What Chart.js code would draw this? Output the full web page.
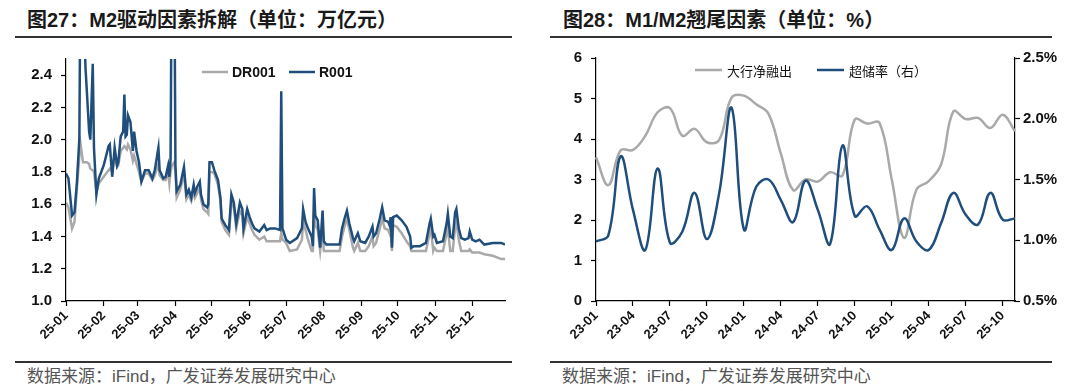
<!DOCTYPE html>
<html>
<head>
<meta charset="utf-8">
<script src="https://cdn.jsdelivr.net/npm/chart.js@4.4.1/dist/chart.umd.min.js"></script>
<style>
  body { margin: 0; background: #fff; width: 1080px; height: 391px; position: relative; overflow: hidden;
         font-family: "Liberation Sans", Arial, "Noto Sans CJK SC", sans-serif; }
  .title { position: absolute; top: 7px; font-size: 20px; font-weight: bold; color: #1a1a1a; white-space: nowrap; line-height: 26px; }
  .rule { position: absolute; height: 2px; background: #333; }
  .src { position: absolute; top: 366px; font-size: 17px; color: #555; white-space: nowrap; line-height: 22px; }
  canvas { position: absolute; top: 40px; }
</style>
</head>
<body>
<div class="title" style="left:27px">图27：M2驱动因素拆解（单位：万亿元）</div>
<div class="rule" style="left:15px; top:36px; width:497px"></div>
<canvas id="leftChart" width="530" height="318" style="left:0"></canvas>
<div class="rule" style="left:15px; top:361px; width:497px"></div>
<div class="src" style="left:27px">数据来源：iFind，广发证券发展研究中心</div>

<div class="title" style="left:563px">图28：M1/M2翘尾因素（单位：%）</div>
<div class="rule" style="left:550px; top:36px; width:502px"></div>
<canvas id="rightChart" width="540" height="318" style="left:540px"></canvas>
<div class="rule" style="left:550px; top:361px; width:502px"></div>
<div class="src" style="left:562px">数据来源：iFind，广发证券发展研究中心</div>

<script>
// ---- left chart: 2025 daily rates (day of year) ----
var tradeDays = [0,2,5,7,9,11,12,14,16,17,19,20,22,23,25,27,31,35,36,38,40,42,43,45,47,48,49,50,51,53,55,56,58,60,62,65,68,71,73,76,77,80,82,84,85,86,87,89,90,91,94,97,99,101,103,105,106,108,110,111,113,116,117,118,120,122,125,127,128,131,134,136,138,140,143,145,146,149,151,153,155,159,163,165,168,172,176,177,178,181,184,190,194,195,197,199,202,203,204,205,207,209,211,212,214,220,225,227,229,231,233,236,237,240,242,246,249,252,253,255,258,260,262,265,266,267,268,269,272,276,280,283,284,286,291,296,299,300,302,303,305,310,313,314,316,318,320,321,323,325,328,331,332,334,337,340,344,351,358,361];
var r001 = [1.79,1.76,1.53,1.55,1.74,2.01,3.20,3.00,2.45,2.32,2.05,2.00,2.47,1.95,1.66,1.76,1.84,1.96,1.97,1.77,1.95,1.84,1.86,2.02,2.05,2.28,2.02,2.03,2.15,2.11,1.93,2.05,1.93,1.86,1.74,1.81,1.81,1.76,1.81,1.95,1.81,1.76,1.77,1.84,1.77,1.88,3.20,3.20,1.84,1.68,1.72,1.83,1.66,1.69,1.64,1.72,1.67,1.71,1.74,1.66,1.60,1.58,1.60,1.86,1.86,1.81,1.75,1.64,1.51,1.47,1.44,1.66,1.61,1.48,1.61,1.57,1.45,1.57,1.52,1.48,1.45,1.43,1.47,1.44,1.45,1.45,1.44,2.30,1.45,1.38,1.36,1.39,1.45,1.57,1.49,1.45,1.40,1.34,1.70,1.53,1.50,1.33,1.56,1.37,1.35,1.35,1.35,1.45,1.51,1.56,1.48,1.39,1.37,1.42,1.37,1.36,1.40,1.46,1.40,1.42,1.51,1.58,1.50,1.49,1.47,1.52,1.33,1.52,1.53,1.50,1.46,1.40,1.33,1.34,1.34,1.36,1.48,1.51,1.40,1.41,1.36,1.37,1.48,1.54,1.40,1.39,1.55,1.57,1.45,1.39,1.38,1.39,1.43,1.38,1.37,1.38,1.35,1.36,1.36,1.35];
var dr001 = [1.61,1.58,1.45,1.49,1.70,1.90,1.97,1.86,1.86,1.86,1.85,1.82,1.81,1.80,1.68,1.73,1.77,1.81,1.82,1.80,1.90,1.83,1.84,1.93,1.95,1.96,1.95,1.94,1.97,1.94,1.87,1.90,1.85,1.80,1.74,1.79,1.79,1.75,1.78,1.85,1.78,1.75,1.75,1.80,1.73,1.80,1.84,1.86,1.80,1.64,1.69,1.79,1.63,1.66,1.62,1.68,1.64,1.67,1.70,1.63,1.57,1.55,1.54,1.80,1.80,1.79,1.72,1.62,1.49,1.44,1.41,1.61,1.58,1.45,1.56,1.53,1.42,1.52,1.48,1.44,1.41,1.38,1.40,1.37,1.37,1.37,1.37,1.42,1.38,1.36,1.31,1.32,1.38,1.49,1.44,1.38,1.31,1.31,1.55,1.47,1.44,1.31,1.45,1.31,1.31,1.31,1.31,1.40,1.46,1.51,1.44,1.33,1.31,1.36,1.31,1.31,1.34,1.40,1.34,1.36,1.45,1.51,1.45,1.44,1.42,1.46,1.31,1.47,1.46,1.42,1.37,1.34,1.31,1.31,1.31,1.31,1.42,1.45,1.31,1.33,1.31,1.31,1.42,1.45,1.31,1.31,1.46,1.49,1.38,1.31,1.31,1.31,1.32,1.30,1.30,1.30,1.29,1.28,1.26,1.26];
var monthStarts = [0,31,59,90,120,151,181,212,243,273,304,334];
var monthLabels = ['25-01','25-02','25-03','25-04','25-05','25-06','25-07','25-08','25-09','25-10','25-11','25-12'];
var leftYTicks = [1.0,1.2,1.4,1.6,1.8,2.0,2.2,2.4];

// ---- right chart: monthly 23-01 .. 25-11 ----
var months = ['23-01','23-02','23-03','23-04','23-05','23-06','23-07','23-08','23-09','23-10','23-11','23-12',
              '24-01','24-02','24-03','24-04','24-05','24-06','24-07','24-08','24-09','24-10','24-11','24-12',
              '25-01','25-02','25-03','25-04','25-05','25-06','25-07','25-08','25-09','25-10','25-11'];
var bigBankNetLend = [3.55,2.86,3.72,3.73,4.08,4.66,4.76,4.08,4.25,3.92,3.98,5.02,5.07,4.86,4.62,3.64,2.74,3.0,2.95,3.18,3.10,4.48,4.38,4.40,3.00,1.56,2.75,2.96,3.37,4.68,4.49,4.52,4.27,4.60,4.19];
var excessReserve = [0.99,1.04,1.69,1.25,0.92,1.59,0.98,1.07,1.39,1.01,1.39,2.09,1.09,1.44,1.50,1.33,1.15,1.49,1.25,0.97,1.78,1.20,1.28,1.09,0.92,1.18,0.99,0.92,1.14,1.39,1.21,1.13,1.39,1.17,1.18];
var rightYTicks = [0,1,2,3,4,5,6];
var rightY2Ticks = [0.5,1.0,1.5,2.0,2.5];

var BLUE = '#1f4e7c';
var GRAY = '#a9a9a9';
var tickFont = { family: '"Liberation Sans", Arial, sans-serif', size: 15, weight: 'bold' };
var xFont = { family: '"Liberation Sans", Arial, sans-serif', size: 13, weight: 'bold' };

// legend drawn inside the plot
const inlineLegend = {
    id: 'inlineLegend',
    afterDraw(chart, args, opts)
    {
        const ctx = chart.ctx;
        ctx.save();
        opts.items.forEach(function(it){
            const ds = chart.data.datasets[it.ds];
            ctx.strokeStyle = ds.borderColor;
            ctx.lineWidth = 2.5;
            ctx.beginPath();
            ctx.moveTo(it.x, opts.y);
            ctx.lineTo(it.x + opts.len, opts.y);
            ctx.stroke();
            ctx.fillStyle = '#111';
            ctx.font = opts.font;
            ctx.textBaseline = 'middle';
            ctx.fillText(ds.label, it.x + opts.len + opts.gap, opts.y + 1);
        });
        ctx.restore();
    }
};

function axisBase()
{
    return {
        border: { display: true, color: '#000', width: 1.2 },
        grid: { display: true, drawOnChartArea: false, drawTicks: true, tickLength: 5, color: '#000', tickWidth: 1.2 }
    };
}

var leftX = axisBase();
leftX.type = 'linear';
leftX.min = 0;
leftX.max = 361;
leftX.afterBuildTicks = function(s){ s.ticks = monthStarts.map(function(v){ return { value: v }; }); };
leftX.afterFit = function(s){ s.height = 57; };
leftX.ticks = { autoSkip: false, maxRotation: 45, minRotation: 45, padding: 2, color: '#111', font: xFont,
                callback: function(v){ return monthLabels[monthStarts.indexOf(v)]; } };

var leftY = axisBase();
leftY.min = 1.0;
leftY.max = 2.5;
leftY.afterBuildTicks = function(s){ s.ticks = leftYTicks.map(function(v){ return { value: v }; }); };
leftY.afterFit = function(s){ s.width = 66; };
leftY.ticks = { padding: 9, color: '#111', font: tickFont, callback: function(v){ return v.toFixed(1); } };

new Chart(document.getElementById('leftChart').getContext('2d'), {
    type: 'line',
    data: {
        datasets: [
            { label: 'DR001', data: dr001.map(function(v, i){ return { x: tradeDays[i], y: v }; }),
              borderColor: GRAY, borderWidth: 2.5, pointRadius: 0, tension: 0, order: 2 },
            { label: 'R001', data: r001.map(function(v, i){ return { x: tradeDays[i], y: v }; }),
              borderColor: BLUE, borderWidth: 2.5, pointRadius: 0, tension: 0, order: 1 }
        ]
    },
    options: {
        responsive: false,
        animation: false,
        devicePixelRatio: 1,
        layout: { padding: { top: 19, right: 25, left: 0, bottom: 0 } },
        scales: { x: leftX, y: leftY },
        plugins: {
            legend: { display: false },
            tooltip: { enabled: false },
            inlineLegend: { y: 32, len: 26, gap: 4, font: 'bold 14px "Liberation Sans", Arial, sans-serif',
                            items: [{ ds: 0, x: 202 }, { ds: 1, x: 289 }] }
        }
    },
    plugins: [inlineLegend]
});

var rightX = axisBase();
rightX.type = 'category';
rightX.offset = false;
rightX.afterFit = function(s){ s.height = 57; };
rightX.ticks = { autoSkip: false, maxRotation: 45, minRotation: 45, padding: 2, color: '#111', font: xFont,
                 callback: function(v, i){ return i % 3 === 0 ? months[i] : null; } };

var rightY = axisBase();
rightY.position = 'left';
rightY.min = 0;
rightY.max = 6;
rightY.afterBuildTicks = function(s){ s.ticks = rightYTicks.map(function(v){ return { value: v }; }); };
rightY.afterFit = function(s){ s.width = 56; };
rightY.ticks = { padding: 9, color: '#111', font: tickFont };

var rightY2 = axisBase();
rightY2.position = 'right';
rightY2.min = 0.5;
rightY2.max = 2.5;
rightY2.afterBuildTicks = function(s){ s.ticks = rightY2Ticks.map(function(v){ return { value: v }; }); };
rightY2.afterFit = function(s){ s.width = 65; };
rightY2.ticks = { padding: 3, color: '#111', font: tickFont, callback: function(v){ return v.toFixed(1) + '%'; } };

new Chart(document.getElementById('rightChart').getContext('2d'), {
    type: 'line',
    data: {
        labels: months,
        datasets: [
            { label: '大行净融出', data: bigBankNetLend, yAxisID: 'y',
              borderColor: GRAY, borderWidth: 2.5, pointRadius: 0, tension: 0.4, order: 2 },
            { label: '超储率（右）', data: excessReserve, yAxisID: 'y2',
              borderColor: BLUE, borderWidth: 2.5, pointRadius: 0, tension: 0.4, order: 1 }
        ]
    },
    options: {
        responsive: false,
        animation: false,
        devicePixelRatio: 1,
        layout: { padding: { top: 17, right: 0, left: 0, bottom: 0 } },
        scales: { x: rightX, y: rightY, y2: rightY2 },
        plugins: {
            legend: { display: false },
            tooltip: { enabled: false },
            inlineLegend: { y: 30, len: 27, gap: 5, font: '13px "Noto Sans CJK SC", sans-serif',
                            items: [{ ds: 0, x: 155 }, { ds: 1, x: 277 }] }
        }
    },
    plugins: [inlineLegend]
});
</script>
</body>
</html>
